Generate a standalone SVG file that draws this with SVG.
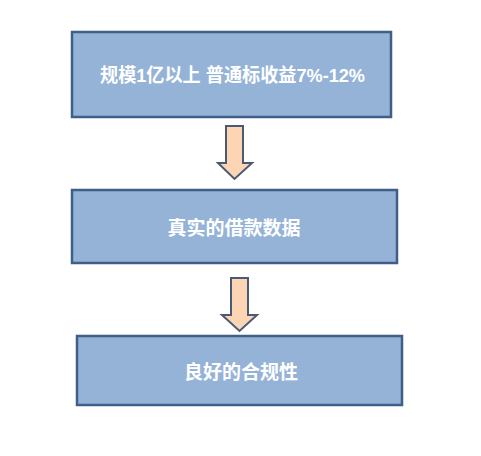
<svg xmlns="http://www.w3.org/2000/svg" width="481" height="456" viewBox="0 0 481 456">
<style>
.box{fill:#95b3d7;stroke:#3f5e88;stroke-width:2.5}
.arr{fill:#fcd5b5;stroke:#4a5a74;stroke-width:2;stroke-linejoin:miter}
.t{font-family:"Liberation Sans","Noto Sans CJK SC",sans-serif;font-weight:bold;font-size:19px;fill:#ffffff;text-anchor:middle;dominant-baseline:central}
</style>
<rect width="481" height="456" fill="#ffffff"/>
<g id="node1"><rect class="box" x="72" y="32" width="319" height="85"/><text class="t" x="232.5" y="75" textLength="265" lengthAdjust="spacingAndGlyphs">规模1亿以上 普通标收益7%-12%</text></g>
<g id="node2"><rect class="box" x="72" y="190" width="325" height="73"/><text class="t" x="234" y="228">真实的借款数据</text></g>
<g id="node3"><rect class="box" x="77" y="336" width="325" height="69"/><text class="t" x="241" y="372">良好的合规性</text></g>
<g id="connectors">
<path class="arr" d="M226,126 H243 V163 H252 L234.5,179 L218,163 H226 Z"/>
<path class="arr" d="M231,278 H248 V315 H257 L239.5,331 L222,315 H231 Z"/>
</g>
</svg>
